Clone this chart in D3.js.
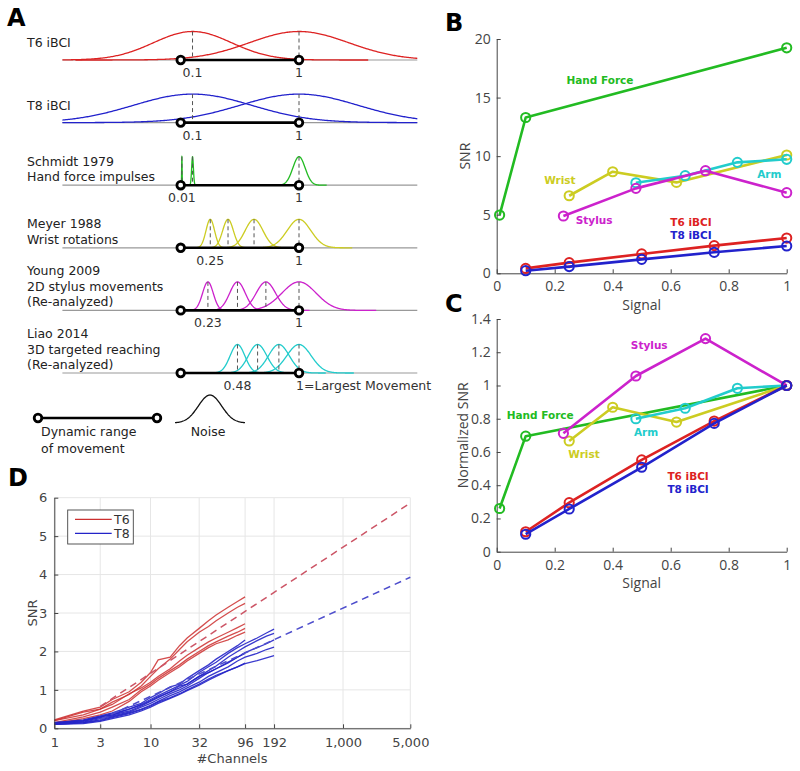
<!DOCTYPE html>
<html>
<head>
<meta charset="utf-8">
<script src="https://cdn.jsdelivr.net/npm/d3@7"></script>
<style>
  body { margin: 0; background: #fff; }
  svg { display: block; }
</style>
</head>
<body>
<script>
// ---- panel A: schematic gaussians ----
var rowLabels = [["T6 iBCI"], ["T8 iBCI"], ["Schmidt 1979", "Hand force impulses"],
  ["Meyer 1988", "Wrist rotations"], ["Young 2009", "2D stylus movements", "(Re-analyzed)"],
  ["Liao 2014", "3D targeted reaching", "(Re-analyzed)"]];
var rowCenters = [[0.1, 1], [0.1, 1], [0.01, 0.1, 1], [0.25, 0.4, 0.62, 1],
  [0.23, 0.48, 0.72, 1], [0.48, 0.65, 0.83, 1]];
var rowSigmas = [[0.33, 0.42], [0.5, 0.5], [0.002, 0.0075, 0.052], [0.036, 0.045, 0.075, 0.1],
  [0.045, 0.066, 0.082, 0.145], [0.062, 0.078, 0.088, 0.103]];
var rowMinLabels = ["0.1", "0.1", "0.01", "0.25", "0.23", "0.48"];
var rowMaxLabels = ["1", "1", "1", "1", "1", "1=Largest Movement"];
var rowColors = ["#dd2222", "#2222cc", "#22bb22", "#cccc22", "#cc22cc", "#22cccc"];

// ---- panel B / C: SNR vs signal ----
var handX = [0.01, 0.1, 1], handB = [4.97, 13.3, 19.25], handC = [0.26, 0.695, 1];
var wristX = [0.25, 0.4, 0.62, 1], wristB = [6.62, 8.67, 7.76, 10.1], wristC = [0.666, 0.869, 0.78, 1];
var armX = [0.48, 0.65, 0.83, 1], armB = [7.73, 8.33, 9.47, 9.73], armC = [0.8, 0.863, 0.983, 1];
var stylusX = [0.23, 0.48, 0.72, 1], stylusB = [4.89, 7.25, 8.76, 6.88], stylusC = [0.712, 1.057, 1.282, 1];
var t6X = [0.1, 0.25, 0.5, 0.75, 1], t6B = [0.42, 0.91, 1.65, 2.36, 3.01], t6C = [0.12, 0.295, 0.552, 0.786, 1];
var t8X = [0.1, 0.25, 0.5, 0.75, 1], t8B = [0.22, 0.57, 1.19, 1.79, 2.33], t8C = [0.105, 0.257, 0.508, 0.772, 1];

var bXTicks = [0, 0.2, 0.4, 0.6, 0.8, 1];
var bYTicks = [0, 5, 10, 15, 20];
var cYTicks = [0, 0.2, 0.4, 0.6, 0.8, 1, 1.2, 1.4];

// label anchors (data units)
var bNotes = [["Hand Force", 0.356, 16.43, "#22bb22"], ["Wrist", 0.218, 7.9, "#cccc22"],
  ["Arm", 0.94, 8.45, "#22cccc"], ["Stylus", 0.336, 4.49, "#cc22cc"],
  ["T6 iBCI", 0.67, 4.38, "#dd2222"], ["T8 iBCI", 0.67, 3.21, "#2222cc"]];
var cNotes = [["Stylus", 0.526, 1.24, "#cc22cc"], ["Hand Force", 0.15, 0.823, "#22bb22"],
  ["Arm", 0.515, 0.72, "#22cccc"], ["Wrist", 0.301, 0.588, "#cccc22"],
  ["T6 iBCI", 0.66, 0.455, "#dd2222"], ["T8 iBCI", 0.66, 0.377, "#2222cc"]];

// ---- panel D: SNR vs #channels ----
var dRedX = [1, 2, 3, 4, 6, 8, 10, 12, 16, 20, 24, 32, 40, 48, 64, 80, 96];
var dRed = [
  [0.22, 0.45, 0.55, 0.75, 0.95, 1.2, 1.45, 1.78, 1.85, 2.15, 2.35, 2.6, 2.8, 2.95, 3.15, 3.3, 3.42],
  [0.2, 0.42, 0.5, 0.68, 0.88, 1.1, 1.35, 1.55, 1.8, 2.05, 2.25, 2.5, 2.65, 2.8, 3.0, 3.15, 3.25],
  [0.2, 0.35, 0.5, 0.62, 0.9, 1.05, 1.2, 1.35, 1.55, 1.75, 1.9, 2.1, 2.25, 2.35, 2.5, 2.62, 2.72],
  [0.15, 0.3, 0.42, 0.55, 0.75, 1.0, 1.15, 1.3, 1.5, 1.65, 1.8, 2.0, 2.15, 2.25, 2.4, 2.5, 2.6],
  [0.12, 0.25, 0.35, 0.45, 0.7, 0.95, 1.1, 1.25, 1.45, 1.6, 1.75, 1.95, 2.1, 2.2, 2.3, 2.42, 2.5]
];
var dBlueX = [1, 2, 3, 4, 6, 8, 10, 12, 16, 20, 24, 32, 40, 48, 64, 80, 96, 128, 160, 192];
var dBlue = [
  [0.15, 0.2, 0.3, 0.38, 0.5, 0.62, 0.75, 0.85, 1.0, 1.12, 1.22, 1.45, 1.6, 1.72, 1.95, 2.1, 2.2, 2.35, 2.48, 2.58],
  [0.12, 0.18, 0.28, 0.35, 0.45, 0.58, 0.7, 0.8, 0.95, 1.1, 1.15, 1.35, 1.5, 1.62, 1.85, 2.0, 2.12, 2.28, 2.4, 2.47],
  [0.12, 0.16, 0.25, 0.32, 0.42, 0.55, 0.65, 0.75, 0.9, 1.0, 1.1, 1.3, 1.45, 1.55, 1.72, 1.85, 1.97, 2.1, 2.2, 2.3],
  [0.1, 0.15, 0.22, 0.3, 0.4, 0.5, 0.6, 0.7, 0.85, 0.95, 1.05, 1.2, 1.35, 1.45, 1.6, 1.75, 1.85, 1.95, 2.05, 2.11],
  [0.1, 0.12, 0.18, 0.25, 0.35, 0.45, 0.55, 0.65, 0.78, 0.88, 0.98, 1.12, 1.25, 1.35, 1.5, 1.6, 1.68, 1.76, 1.83, 1.89],
  [0.15, 0.22, 0.32, 0.4, 0.55, 0.65, 0.8, 0.9, 1.08, 1.15, 1.3, 1.5, 1.65, 1.8, 2.0, 2.15, 2.3],
  [0.12, 0.2, 0.3, 0.35, 0.5, 0.6, 0.72, 0.82, 0.95, 1.05, 1.15, 1.35, 1.45, 1.55, 1.7, 1.85, 1.95],
  [0.1, 0.14, 0.2, 0.28, 0.38, 0.48, 0.58, 0.68, 0.8, 0.9, 1.0, 1.15, 1.28, 1.38, 1.5, 1.6, 1.7]
];
var dRedFit = [[3, 0.57], [5000, 5.86]];
var dBlueFit = [[3, 0.23], [5000, 3.93]];
var dXTicks = [1, 3, 10, 32, 96, 192, 1000, 5000];
var dXLabels = ["1", "3", "10", "32", "96", "192", "1,000", "5,000"];
var dYTicks = [0, 1, 2, 3, 4, 5, 6];

var svg = d3.select("body").append("svg")
  .attr("width", 800).attr("height", 771);

var verdana = "'DejaVu Sans', Verdana, sans-serif";
var axisFont = "'Open Sans', 'Segoe UI', sans-serif";

function panelLetter(t, x, y) {
  svg.append("text").attr("x", x).attr("y", y).text(t)
    .style("font-family", verdana).style("font-weight", "bold").style("font-size", "24px");
}

// ================= A =================
panelLetter("A", 7, 26);
var ax = d3.scaleLinear().domain([-1, 2]).range([62.4, 417.3]);
var amp = 28.5;
var gA = svg.append("g");

rowCenters.forEach(function(centers, i) {
  var y0 = 60 + i * 62.6;
  var row = gA.append("g");
  // baseline
  row.append("line").attr("x1", ax(-1)).attr("x2", ax(2)).attr("y1", y0).attr("y2", y0)
    .attr("stroke", "#999").attr("stroke-width", 1.2);
  // gaussians
  centers.forEach(function(c, k) {
    var s = rowSigmas[i][k];
    var lo = Math.max(-1, c - 4.5 * s), hi = Math.min(2, c + 4.5 * s);
    var pts = d3.range(0, 301).map(function(j) { return lo + (hi - lo) * j / 300; });
    var line = d3.line()
      .x(function(v) { return ax(v); })
      .y(function(v) { return y0 - amp * Math.exp(-(v - c) * (v - c) / (2 * s * s)); });
    row.append("path").attr("d", line(pts)).attr("fill", "none")
      .attr("stroke", rowColors[i]).attr("stroke-width", 1.3);
  });
  centers.forEach(function(c) {
    row.append("line").attr("x1", ax(c)).attr("x2", ax(c)).attr("y1", y0 - amp).attr("y2", y0)
      .attr("stroke", "#555").attr("stroke-width", 1).attr("stroke-dasharray", "4,3");
  });
  // dynamic range bar
  row.append("line").attr("x1", ax(0)).attr("x2", ax(1)).attr("y1", y0).attr("y2", y0)
    .attr("stroke", "#000").attr("stroke-width", 2.6);
  [0, 1].forEach(function(v) {
    row.append("circle").attr("cx", ax(v)).attr("cy", y0).attr("r", 3.8)
      .attr("fill", "#fff").attr("stroke", "#000").attr("stroke-width", 2.8);
  });
  // value labels
  row.append("text").attr("x", ax(centers[0])).attr("y", y0 + 17).attr("text-anchor", "middle")
    .text(rowMinLabels[i]).style("font-family", verdana).style("font-size", "12.5px").style("fill", "#333");
  row.append("text").attr("x", ax(1) + (i == 5 ? -3 : 0)).attr("y", y0 + 17)
    .attr("text-anchor", i == 5 ? "start" : "middle")
    .text(rowMaxLabels[i]).style("font-family", verdana).style("font-size", "12.5px").style("fill", "#333");
  // row label
  var lines = rowLabels[i];
  var last = lines.length == 1 ? y0 - 13 : y0 - 4;
  lines.forEach(function(t, k) {
    row.append("text").attr("x", 27).attr("y", last - (lines.length - 1 - k) * 15.5)
      .text(t).style("font-family", verdana).style("font-size", "12.5px").style("fill", "#222");
  });
});

// legend for A
var lgx = d3.scaleLinear().domain([0, 1]).range([38, 157]);
gA.append("line").attr("x1", lgx(0)).attr("x2", lgx(1)).attr("y1", 418).attr("y2", 418)
  .attr("stroke", "#000").attr("stroke-width", 2.6);
[0, 1].forEach(function(v) {
  gA.append("circle").attr("cx", lgx(v)).attr("cy", 418).attr("r", 3.8)
    .attr("fill", "#fff").attr("stroke", "#000").attr("stroke-width", 2.8);
});
gA.append("text").attr("x", 41).attr("y", 436).text("Dynamic range")
  .style("font-family", verdana).style("font-size", "12.5px").style("fill", "#222");
gA.append("text").attr("x", 41).attr("y", 453).text("of movement")
  .style("font-family", verdana).style("font-size", "12.5px").style("fill", "#222");
var nx = d3.scaleLinear().domain([-3, 3]).range([175, 245]);
var noiseLine = d3.line().x(function(v) { return nx(v); })
  .y(function(v) { return 423 - 28 * Math.exp(-v * v / 2); });
gA.append("path").attr("d", noiseLine(d3.range(-3, 3.001, 0.05))).attr("fill", "none")
  .attr("stroke", "#111").attr("stroke-width", 1.3);
gA.append("text").attr("x", 208).attr("y", 436).attr("text-anchor", "middle").text("Noise")
  .style("font-family", verdana).style("font-size", "12.5px").style("fill", "#222");

// ================= B & C =================
function styleAxis(g, font, size) {
  g.select(".domain").attr("stroke", "#444");
  g.selectAll(".tick line").attr("stroke", "#444");
  g.selectAll(".tick text").style("font-family", font).style("font-size", size).style("fill", "#444");
}

function snrPanel(yScale, yTicks, series, notes, yLabel, sigY) {
  var bx = d3.scaleLinear().domain([0, 1]).range([496.7, 786.7]);
  var g = svg.append("g");
  var xAxis = g.append("g").attr("transform", "translate(0," + yScale.range()[0] + ")")
    .call(d3.axisBottom(bx).tickValues(bXTicks).tickFormat(d3.format("~g"))
      .tickSizeInner(-4).tickSizeOuter(0).tickPadding(8));
  styleAxis(xAxis, axisFont, "14px");
  var yAxis = g.append("g").attr("transform", "translate(496.7,0)")
    .call(d3.axisLeft(yScale).tickValues(yTicks).tickFormat(d3.format("~g"))
      .tickSizeInner(-4).tickSizeOuter(0).tickPadding(6));
  styleAxis(yAxis, axisFont, "14px");

  series.forEach(function(s) {
    var pts = s.x.map(function(v, k) { return [v, s.y[k]]; });
    var line = d3.line().x(function(d) { return bx(d[0]); }).y(function(d) { return yScale(d[1]); });
    g.append("path").attr("d", line(pts)).attr("fill", "none")
      .attr("stroke", s.color).attr("stroke-width", 2.6).attr("stroke-linejoin", "round");
    g.selectAll(null).data(pts).enter().append("circle")
      .attr("cx", function(d) { return bx(d[0]); }).attr("cy", function(d) { return yScale(d[1]); })
      .attr("r", 4.6).attr("fill", "none").attr("stroke", s.color).attr("stroke-width", 2);
  });
  notes.forEach(function(n) {
    g.append("text").attr("x", bx(n[1])).attr("y", yScale(n[2])).attr("dy", "0.35em")
      .attr("text-anchor", "middle").text(n[0]).style("fill", n[3])
      .style("font-family", verdana).style("font-weight", "bold").style("font-size", "10.5px");
  });
  g.append("text").attr("x", 641.7).attr("y", sigY).attr("text-anchor", "middle").text("Signal")
    .style("font-family", axisFont).style("font-size", "14px").style("fill", "#444");
  var mid = (yScale.range()[0] + yScale.range()[1]) / 2;
  g.append("text").attr("transform", "translate(" + yLabel[1] + "," + mid + ") rotate(-90)")
    .attr("text-anchor", "middle").text(yLabel[0])
    .style("font-family", axisFont).style("font-size", "14px").style("fill", "#444");
}

panelLetter("B", 445, 31);
var byScale = d3.scaleLinear().domain([0, 20]).range([273.3, 39]);
snrPanel(byScale, bYTicks, [
  { x: handX, y: handB, color: "#22bb22" },
  { x: wristX, y: wristB, color: "#cccc22" },
  { x: armX, y: armB, color: "#22cccc" },
  { x: stylusX, y: stylusB, color: "#cc22cc" },
  { x: t6X, y: t6B, color: "#dd2222" },
  { x: t8X, y: t8B, color: "#2222cc" }
], bNotes, ["SNR", 470], 310);

panelLetter("C", 445, 312);
var cyScale = d3.scaleLinear().domain([0, 1.4]).range([551.7, 319]);
snrPanel(cyScale, cYTicks, [
  { x: handX, y: handC, color: "#22bb22" },
  { x: wristX, y: wristC, color: "#cccc22" },
  { x: armX, y: armC, color: "#22cccc" },
  { x: stylusX, y: stylusC, color: "#cc22cc" },
  { x: t6X, y: t6C, color: "#dd2222" },
  { x: t8X, y: t8C, color: "#2222cc" }
], cNotes, ["Normalized SNR", 468], 588);

// ================= D =================
panelLetter("D", 8, 486);
var dx = d3.scaleLog().domain([1, 5000]).range([54.3, 410.3]);
var dy = d3.scaleLinear().domain([0, 6]).range([728.3, 497.7]);
var gD = svg.append("g");

// grid
gD.selectAll(null).data(dXTicks).enter().append("line")
  .attr("x1", function(d) { return dx(d); }).attr("x2", function(d) { return dx(d); })
  .attr("y1", dy(0)).attr("y2", dy(6)).attr("stroke", "#e6e6e6").attr("stroke-width", 1);
gD.selectAll(null).data(dYTicks).enter().append("line")
  .attr("y1", function(d) { return dy(d); }).attr("y2", function(d) { return dy(d); })
  .attr("x1", dx(1)).attr("x2", dx(5000)).attr("stroke", "#e6e6e6").attr("stroke-width", 1);

var dLine = d3.line().x(function(d) { return dx(d[0]); }).y(function(d) { return dy(d[1]); });
dRed.forEach(function(vals) {
  gD.append("path").attr("d", dLine(vals.map(function(v, k) { return [dRedX[k], v]; })))
    .attr("fill", "none").attr("stroke", "#cc2f2f").attr("stroke-opacity", 0.85).attr("stroke-width", 1.3);
});
dBlue.forEach(function(vals) {
  gD.append("path").attr("d", dLine(vals.map(function(v, k) { return [dBlueX[k], v]; })))
    .attr("fill", "none").attr("stroke", "#2323c8").attr("stroke-opacity", 0.9).attr("stroke-width", 1.3);
});
gD.append("path").attr("d", dLine(dRedFit)).attr("fill", "none")
  .attr("stroke", "#cc5566").attr("stroke-width", 1.5).attr("stroke-dasharray", "7,5");
gD.append("path").attr("d", dLine(dBlueFit)).attr("fill", "none")
  .attr("stroke", "#4d4dcc").attr("stroke-width", 1.5).attr("stroke-dasharray", "7,5");

var dxAxis = gD.append("g").attr("transform", "translate(0," + dy(0) + ")")
  .call(d3.axisBottom(dx).tickValues(dXTicks).tickFormat(function(d, i) { return dXLabels[i]; })
    .tickSizeInner(-4).tickSizeOuter(0).tickPadding(9));
styleAxis(dxAxis, verdana, "13px");
var dyAxis = gD.append("g").attr("transform", "translate(" + dx(1) + ",0)")
  .call(d3.axisLeft(dy).tickValues(dYTicks).tickFormat(d3.format("d"))
    .tickSizeInner(-4).tickSizeOuter(0).tickPadding(7));
styleAxis(dyAxis, verdana, "13px");

gD.append("text").attr("x", 232).attr("y", 763).attr("text-anchor", "middle").text("#Channels")
  .style("font-family", verdana).style("font-size", "13px").style("fill", "#444");
gD.append("text").attr("transform", "translate(37,613) rotate(-90)").attr("text-anchor", "middle")
  .text("SNR").style("font-family", verdana).style("font-size", "13px").style("fill", "#444");

// legend
var lg = gD.append("g");
lg.append("rect").attr("x", 67.7).attr("y", 510).attr("width", 65.6).attr("height", 34)
  .attr("fill", "#fff").attr("stroke", "#444").attr("stroke-width", 0.9);
[["T6", "#cc2f2f", 519.3], ["T8", "#2323c8", 533.3]].forEach(function(e) {
  lg.append("line").attr("x1", 75).attr("x2", 111.7).attr("y1", e[2]).attr("y2", e[2])
    .attr("stroke", e[1]).attr("stroke-width", 1.3);
  lg.append("text").attr("x", 114).attr("y", e[2]).attr("dy", "0.36em").text(e[0])
    .style("font-family", verdana).style("font-size", "12.5px").style("fill", "#333");
});
</script>
</body>
</html>
